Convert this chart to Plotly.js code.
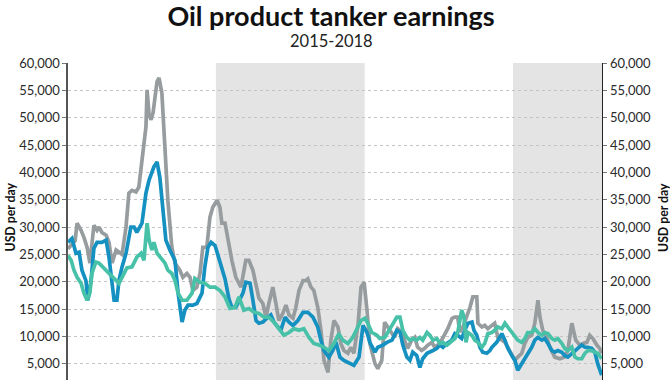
<!DOCTYPE html>
<html>
<head>
<meta charset="utf-8">
<script src="https://cdn.plot.ly/plotly-3.0.1.min.js"></script>
<style>html,body{margin:0;padding:0;overflow:hidden;background:#fff}</style>
</head>
<body>
<div id="chart"></div>
<script>
// Weekly earnings, USD per day; x = weeks since 2 Jan 2015
const seriesNames = ["LR2", "LR1", "MR"];
const grayWeeks = [0,1.4,2.5,3.2,4.6,5.6,6.7,7.7,8.4,9.1,10.2,10.9,11.9,13.4,14.4,15.5,16.9,17.9,19.0,20.4,21.4,22.5,23.9,24.9,26.0,27.4,27.8,28.5,29.2,29.9,31.3,32.0,33.0,34.1,35.1,36.5,37.6,39.3,40.4,41.8,42.9,43.9,45.3,46.4,47.4,48.8,49.9,50.9,52.4,53.4,54.1,55.2,56.6,57.6,59.0,60.8,62.5,63.6,65.0,66.1,67.1,68.5,69.6,70.6,72.0,73.1,74.1,75.5,76.6,77.7,79.1,80.1,81.2,82.6,83.6,84.3,85.4,86.4,87.8,88.9,90.0,91.4,92.4,93.5,94.9,95.9,97.0,98.4,99.4,100.5,102.0,103.0,104.1,105.1,106.1,107.9,108.9,110.3,111.3,112.4,113.8,114.8,115.9,117.3,118.3,119.4,120.8,121.9,122.9,124.3,125.4,126.5,127.9,128.9,130.7,132.4,133.5,135.0,135.9,137.0,137.7,138.8,140.2,141.3,142.3,143.7,144.1,145.5,146.5,147.6,149.0,150.0,151.1,152.5,153.6,154.6,156.0,157.1,158.1,159.5,160.6,161.6,163.0,164.1,165.2,165.9,166.9,168.3,169.4,171.1,172.9,174.6,175.7,177.1,178.5,179.9,181.0,182.4,183.4,184.5,185.9,186.9,187.6];
const grayValues = [26000,27000,27500,30700,29400,28100,26300,23400,27600,30300,29400,30000,29000,28500,27200,23400,25800,25400,25000,30000,36200,36700,36400,37300,42300,48300,55100,50500,49600,50900,56600,57300,54500,44700,34900,26300,23400,22100,20800,21500,20800,18400,19000,21500,26300,26300,31800,33600,34900,33600,30700,30700,26300,23900,20800,19000,23900,23900,22100,19000,17000,16000,13500,16000,19000,16000,12900,14200,15700,13900,13300,15300,18400,20200,20200,20500,19000,18400,15300,11100,5600,3400,9300,12900,11700,8700,7400,6900,8000,6900,12400,19000,19900,14800,8700,5000,4100,5600,12600,11700,10500,9800,11400,10800,9300,7800,9300,9800,8000,7400,7800,8400,8900,8000,8700,10200,11400,13300,13500,13500,10800,11700,13500,15300,17200,17200,12400,11700,12000,11400,12000,12400,9800,9300,8900,8000,6500,5600,6200,6900,8700,9800,10200,12400,16600,13500,11100,9800,8000,6200,5900,6200,7400,12400,9300,8400,8700,8900,10200,9600,8400,7800,6900];

const blueWeeks = [0,1.4,2.8,3.9,4.9,6.3,7.0,8.1,9.1,10.2,11.9,13.4,14.4,15.5,16.2,17.2,17.9,19.0,20.4,22.1,23.2,24.2,26.0,27.4,28.5,30.2,31.3,32.3,33.4,34.4,35.8,37.6,38.7,40.1,41.1,42.2,43.9,45.3,47.1,48.1,49.2,50.3,51.7,53.4,55.2,56.6,57.6,59.0,60.1,61.5,62.5,64.0,65.0,66.1,67.1,68.5,70.3,71.3,72.4,73.8,74.8,76.3,77.7,79.1,80.8,82.6,84.3,86.1,87.8,88.9,90.0,91.7,93.1,94.2,95.6,97.0,98.7,100.5,102.3,103.7,105.1,106.1,107.9,108.9,110.7,112.1,113.9,115.6,116.7,117.7,119.1,120.2,121.2,122.6,123.7,124.7,126.2,127.2,128.3,129.7,130.7,131.8,133.2,134.9,136.0,137.0,138.4,139.5,140.6,142.0,142.7,143.7,144.8,145.8,147.2,148.3,149.0,150.7,152.5,153.6,154.6,156.0,157.1,158.1,159.5,160.6,161.6,163.0,164.1,165.2,166.6,167.6,168.7,170.1,171.1,172.2,173.6,174.6,175.7,177.1,178.2,179.2,180.6,181.7,182.7,184.1,185.2,186.2,187.6];
const blueValues = [27200,27900,25200,25400,22100,20200,16600,20200,26100,27200,27200,27600,24500,19000,16600,16600,20200,22700,25200,30000,30000,29000,30700,36200,38600,41000,41900,39000,32000,27600,25800,23900,17900,12600,14800,15700,15700,16000,17900,22700,26300,27200,26600,23900,20500,16800,15300,15300,16600,17900,19900,19700,16600,12900,12400,12600,13500,13900,12600,11700,11100,13500,12600,12000,12900,14400,14400,13500,11700,9300,7400,6200,7400,8900,6200,5600,5200,4700,6200,12000,10700,8900,7100,8000,8400,8900,9300,11100,10800,8400,6200,5600,7100,6500,4300,5900,6900,7100,7400,7800,8400,8000,8700,9300,10500,10200,9600,11100,12400,12600,11100,10200,8000,7100,6900,7400,8000,8900,10500,9300,7800,6500,5600,3800,5000,6200,6800,8000,9300,9800,9300,9600,8700,7400,7100,7400,7100,6500,6200,6900,7400,7800,8400,8000,8000,7800,7100,5000,2900];

const tealWeeks = [0,1.1,2.1,3.2,4.6,5.6,6.7,7.7,8.4,9.8,10.9,12.7,14.4,16.2,17.9,19.0,20.7,22.5,24.2,25.7,26.7,27.8,28.5,29.5,30.2,31.3,32.3,34.1,35.1,36.5,37.6,38.7,40.1,41.8,43.6,44.6,46.4,48.1,49.9,51.7,53.4,55.2,56.9,58.7,60.1,61.8,63.6,65.4,67.1,68.9,70.6,72.4,74.1,75.9,77.7,79.4,81.2,82.9,84.7,86.4,88.2,90.0,91.7,93.5,95.2,96.6,98.4,100.1,101.9,103.0,104.4,105.4,106.8,108.6,109.6,111.4,113.2,114.2,115.6,116.7,117.7,119.1,120.2,121.2,122.6,123.7,124.7,126.2,127.2,128.3,129.7,130.7,131.8,133.2,134.2,136.0,137.0,138.4,139.2,139.9,140.6,142.0,143.0,144.1,145.5,146.5,147.6,149.0,150.0,151.1,152.5,153.6,154.6,156.0,157.1,158.1,159.5,160.6,161.6,163.0,164.1,165.2,166.6,167.6,168.7,170.1,171.1,172.2,173.6,174.6,175.7,177.1,178.2,179.2,180.6,181.7,182.7,184.1,185.2,186.2,187.6];
const tealValues = [24800,23900,22100,20800,19700,17900,16600,17900,21500,23600,23400,22500,21500,20600,19700,20800,22500,22700,24500,25200,23900,30700,27600,25800,27200,25200,24500,23400,22100,21500,20200,17900,16600,16600,17900,20600,19900,19700,19000,19000,18400,17200,15100,15300,17200,14800,15100,14400,14200,13500,13500,12600,11400,10200,10700,11400,11100,11400,9800,8700,8400,8000,7400,8700,10500,9300,8700,9800,11700,12900,13300,12400,10700,10200,9600,9800,11400,12400,13500,13500,11100,9800,9300,9600,9300,9800,9300,10700,10200,9300,9600,8700,8900,8400,8900,9600,10700,14800,13500,8900,10700,10200,9300,8900,8000,8700,10500,10700,11100,11700,11400,12400,11700,10700,10200,9300,8900,9600,10700,10700,11400,10700,10200,10700,10500,9600,9300,9600,8700,7800,7400,8000,6200,5900,5900,6900,7400,7400,7100,6900,5900];

const shadedYears = [["2016-01-01", "2017-01-01"], ["2018-01-01", "2018-08-08"]];
const xRange = ["2015-01-02", "2018-08-08"];
const yTickVals = [5000,10000,15000,20000,25000,30000,35000,40000,45000,50000,55000,60000];
const titleText = "Oil product tanker earnings";
const subtitleText = "2015-2018";
const axisTitleText = "USD per day";

const startMs = Date.UTC(2015, 0, 2);
function toDate(w) {
  const d = new Date(startMs + w * 7 * 86400000);
  return d.toISOString().slice(0, 19).replace("T", " ");
}

const lineW = 3.7;
const traces = [
  {x: grayWeeks.map(toDate), y: grayValues, name: seriesNames[0], type: "scatter", mode: "lines",
   line: {color: "#979c9f", width: lineW}},
  {x: blueWeeks.map(toDate), y: blueValues, name: seriesNames[1], type: "scatter", mode: "lines",
   line: {color: "#1490c1", width: lineW}},
  {x: tealWeeks.map(toDate), y: tealValues, name: seriesNames[2], type: "scatter", mode: "lines",
   line: {color: "#47c2a8", width: lineW}, yaxis: "y2"}
];

const FONT = "Lato, 'Open Sans', sans-serif";
const tickFont = {family: FONT, size: 13, color: "#2a2a2a"};
const axisTitleFont = {family: FONT, size: 12.3, color: "#111", weight: "bold"};

const H = 431, T = 63, B = 40, PH = H - T - B;
const layout = {
  width: 670, height: H,
  margin: {l: 68, r: 68, t: T, b: B},
  paper_bgcolor: "#fff", plot_bgcolor: "rgba(0,0,0,0)",
  showlegend: false,
  title: {
    text: "<b>" + titleText + "</b>",
    font: {family: FONT, size: 27, color: "#111"},
    x: 331 / 670, xanchor: "center", y: 1 - 17 / H, yanchor: "middle", yref: "container"
  },
  annotations: [
    {text: subtitleText, xref: "paper", yref: "paper", x: (331 - 68) / 534, y: 1 + (T - 41) / PH,
     xanchor: "center", yanchor: "middle", showarrow: false,
     font: {family: FONT, size: 16.5, color: "#222"}},
    {text: "<b>" + axisTitleText + "</b>", xref: "paper", yref: "paper", x: (9.5 - 68) / 534, y: (T + PH - 217) / PH,
     xanchor: "center", yanchor: "middle", textangle: -90, showarrow: false, font: axisTitleFont},
    {text: "<b>" + axisTitleText + "</b>", xref: "paper", yref: "paper", x: (663 - 68) / 534, y: (T + PH - 218) / PH,
     xanchor: "center", yanchor: "middle", textangle: -90, showarrow: false, font: axisTitleFont}
  ],
  xaxis: {
    type: "date", range: xRange, showgrid: false, zeroline: false,
    showline: false, showticklabels: false, ticks: ""
  },
  yaxis: {
    range: [0, 60000], tickvals: yTickVals, tickformat: ",d",
    showgrid: true, gridcolor: "#c4c4c4", griddash: "dot", gridwidth: 1,
    zeroline: false, showline: true, linecolor: "#555", linewidth: 1.6,
    ticks: "outside", ticklen: 4, tickcolor: "#777", tickfont: tickFont
  },
  yaxis2: {
    range: [0, 60000], tickvals: yTickVals, tickformat: ",d",
    overlaying: "y", side: "right", showgrid: false, zeroline: false,
    showline: true, linecolor: "#222", linewidth: 1.4,
    ticks: "outside", ticklen: 4, tickcolor: "#777", tickfont: tickFont
  },
  shapes: shadedYears.map(s => ({
    type: "rect", xref: "x", yref: "paper", x0: s[0], x1: s[1], y0: 0, y1: 1,
    fillcolor: "#e4e4e4", line: {width: 0}, layer: "below"
  }))
};

Plotly.newPlot("chart", traces, layout, {displayModeBar: false, staticPlot: true});
</script>
</body>
</html>
